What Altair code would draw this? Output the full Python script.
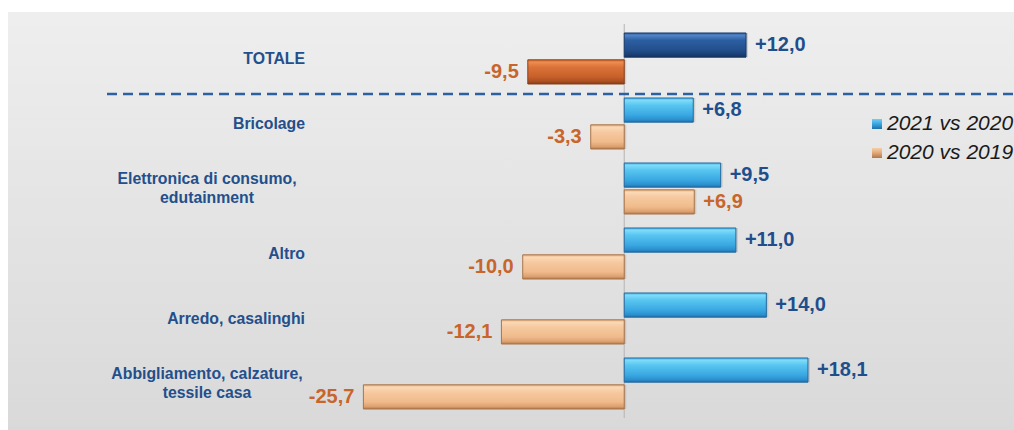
import altair as alt
import pandas as pd

# ---- data ----
categories = [
    "TOTALE",
    "Bricolage",
    "Elettronica di consumo,\nedutainment",
    "Altro",
    "Arredo, casalinghi",
    "Abbigliamento, calzature,\ntessile casa",
]
series = ["2021 vs 2020", "2020 vs 2019"]
v2021 = [12.0, 6.8, 9.5, 11.0, 14.0, 18.1]
v2020 = [-9.5, -3.3, 6.9, -10.0, -12.1, -25.7]


def fmt(v):
    s = f"{abs(v):.1f}".replace(".", ",")
    return ("+" if v >= 0 else "-") + s


rows = []
for c, a, b in zip(categories, v2021, v2020):
    for s, v in zip(series, [a, b]):
        rows.append({
            "cat": c, "series": s, "value": v, "label": fmt(v),
            "total": c == "TOTALE", "pos": v >= 0,
            "multi": "\n" in c,
        })
df = pd.DataFrame(rows)
cat_df = pd.DataFrame({"cat": categories, "multi": ["\n" in c for c in categories]})

FONT = "Liberation Sans"
W, H = 1014, 430

xscale = alt.Scale(domain=[-61.5, 38.4], range=[0, W], nice=False, zero=False)
yscale = alt.Scale(domain=categories, range=[26, 416], paddingInner=0.215, paddingOuter=0.1075)
yoff_scale = alt.Scale(domain=series, paddingInner=0.1, paddingOuter=0)


def grad(stops):
    return alt.LinearGradient(
        gradient="linear",
        stops=[alt.GradientStop(color=c, offset=o) for o, c in stops],
        x1=0, x2=0, y1=0, y2=1,
    )


one = pd.DataFrame({"a": [0]})

bg = alt.Chart(one).mark_rect(
    fill=grad([(0, "#eeeeee"), (1, "#d9d9d9")])
).encode(x=alt.value(8), x2=alt.value(W), y=alt.value(12), y2=alt.value(H))

zero_rule = alt.Chart(one).mark_rule(color="#b4b4b4", strokeWidth=1).encode(
    x=alt.X("a:Q", scale=xscale, axis=None), y=alt.value(24), y2=alt.value(418)
)

dash = alt.Chart(one).mark_rule(color="#2e5fa0", strokeWidth=2.5, strokeDash=[10, 6]).encode(
    x=alt.value(107), x2=alt.value(W), y=alt.value(94)
)

styles = {
    (True, series[0]): (grad([(0, "#2f63a8"), (0.1, "#4f84c6"), (0.3, "#2c5fa2"), (0.7, "#234f8c"), (0.9, "#1b3f73"), (1, "#132f58")]), "#163a6a"),
    (True, series[1]): (grad([(0, "#d06a30"), (0.1, "#f08c50"), (0.3, "#da733a"), (0.7, "#c8602a"), (0.9, "#a94e20"), (1, "#7e3a18")]), "#8a4018"),
    (False, series[0]): (grad([(0, "#4ab8ea"), (0.1, "#7edbf9"), (0.3, "#58c5f0"), (0.7, "#3aa8e2"), (0.9, "#2a8fcf"), (1, "#1f6fa8")]), "#23699e"),
    (False, series[1]): (grad([(0, "#e6b083"), (0.1, "#fbd9b6"), (0.3, "#f6c9a0"), (0.7, "#f0bb8c"), (0.9, "#dca070"), (1, "#b07848")]), "#a87448"),
}

base = alt.Chart(df)
enc = dict(
    y=alt.Y("cat:N", sort=categories, scale=yscale, axis=None),
    yOffset=alt.YOffset("series:N", sort=series, scale=yoff_scale),
)

# soft shadows under bars
shadow = base.mark_bar(fill="#9a9a9a", opacity=0.35, xOffset=2, yOffset=3).encode(
    x=alt.X("value:Q", scale=xscale, axis=None), **enc
)

bars = []
for (tot, s), (fill, stroke) in styles.items():
    cond = (alt.datum.total if tot else ~alt.datum.total) & (alt.datum.series == s)
    bars.append(
        base.transform_filter(cond).mark_bar(fill=fill, stroke=stroke, strokeWidth=1).encode(
            x=alt.X("value:Q", scale=xscale, axis=None), **enc
        )
    )

lab_color = alt.Color("series:N", scale=alt.Scale(domain=series, range=["#1f4e8c", "#c8652b"]), legend=None)
pos_lab = base.transform_filter(alt.datum.pos).mark_text(
    align="left", baseline="middle", dx=9, font=FONT, fontSize=20, fontWeight="bold"
).encode(x=alt.X("value:Q", scale=xscale, axis=None), text="label:N", color=lab_color, **enc)
neg_lab = base.transform_filter(~alt.datum.pos).mark_text(
    align="right", baseline="middle", dx=-9, font=FONT, fontSize=20, fontWeight="bold"
).encode(x=alt.X("value:Q", scale=xscale, axis=None), text="label:N", color=lab_color, **enc)

cbase = alt.Chart(cat_df)
cat_single = cbase.transform_filter(~alt.datum.multi).mark_text(
    align="right", baseline="middle", font=FONT, fontSize=15.8, fontWeight="bold", color="#234f8c"
).encode(x=alt.value(305), y=alt.Y("cat:N", sort=categories, scale=yscale, axis=None), text="cat:N")
cat_multi = cbase.transform_filter(alt.datum.multi).mark_text(
    align="center", baseline="middle", font=FONT, fontSize=15.8, fontWeight="bold", color="#234f8c",
    lineBreak="\n", lineHeight=19, dy=-9.5,
).encode(x=alt.value(207), y=alt.Y("cat:N", sort=categories, scale=yscale, axis=None), text="cat:N")

legend_layers = []
leg_fill = [grad([(0, "#6fd0f5"), (0.5, "#3aa6e0"), (1, "#1f6fa8")]),
            grad([(0, "#f5cfa8"), (0.5, "#e0a878"), (1, "#b07848")])]
for i, s in enumerate(series):
    yy = 124 + 29 * i
    legend_layers.append(
        alt.Chart(one).mark_rect(fill=leg_fill[i]).encode(
            x=alt.value(872), x2=alt.value(882), y=alt.value(yy - 5), y2=alt.value(yy + 5)
        )
    )
    legend_layers.append(
        alt.Chart(pd.DataFrame({"t": [s]})).mark_text(
            align="left", baseline="middle", font=FONT, fontSize=21, fontStyle="italic", color="#1a1a1a"
        ).encode(x=alt.value(887), y=alt.value(yy), text="t:N")
    )

chart = alt.layer(
    bg, zero_rule, dash, shadow, *bars, pos_lab, neg_lab, cat_single, cat_multi, *legend_layers
).properties(
    width=W, height=H, padding=0, autosize=alt.AutoSizeParams(type="none"), background="white"
).configure_view(stroke=None)

chart.save("out.html", embed_options={"renderer": "svg", "actions": False})
